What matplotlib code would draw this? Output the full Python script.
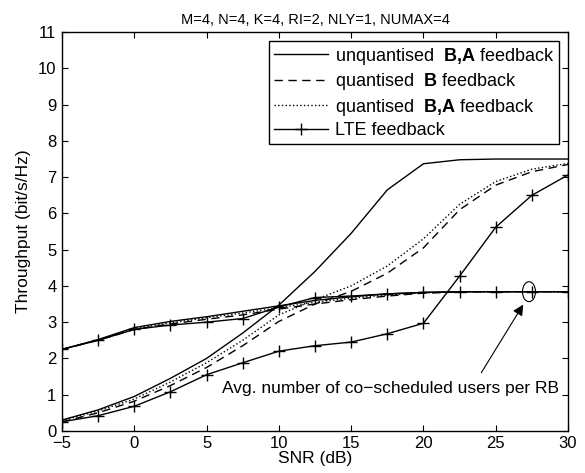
import numpy as np
import matplotlib
matplotlib.use("Agg")
import matplotlib.pyplot as plt
from matplotlib.patches import Ellipse

plt.rcParams['font.family'] = ['Liberation Sans', 'DejaVu Sans']
plt.rcParams['mathtext.fontset'] = 'custom'
plt.rcParams['mathtext.bf'] = 'Liberation Sans:bold'
plt.rcParams['mathtext.rm'] = 'Liberation Sans'

snr = [-5, -2.5, 0, 2.5, 5, 7.5, 10, 12.5, 15, 17.5, 20, 22.5, 25, 27.5, 30]

# throughput (bit/s/Hz)
thr_unq = [0.30, 0.58, 0.95, 1.45, 2.00, 2.70, 3.47, 4.40, 5.45, 6.65, 7.37, 7.48, 7.50, 7.50, 7.50]
thr_qb = [0.25, 0.50, 0.82, 1.25, 1.75, 2.35, 3.02, 3.50, 3.85, 4.35, 5.05, 6.10, 6.78, 7.15, 7.35]
thr_qba = [0.28, 0.55, 0.88, 1.35, 1.88, 2.50, 3.20, 3.62, 4.00, 4.55, 5.30, 6.25, 6.88, 7.22, 7.38]
thr_lte = [0.25, 0.42, 0.68, 1.08, 1.55, 1.88, 2.20, 2.35, 2.45, 2.68, 2.97, 4.27, 5.62, 6.50, 7.06]

# avg. number of co-scheduled users per RB
usr_unq = [2.25, 2.52, 2.85, 3.02, 3.15, 3.30, 3.45, 3.60, 3.70, 3.78, 3.82, 3.84, 3.84, 3.84, 3.84]
usr_qb = [2.25, 2.50, 2.80, 2.95, 3.08, 3.20, 3.36, 3.50, 3.62, 3.72, 3.80, 3.83, 3.84, 3.84, 3.84]
usr_qba = [2.25, 2.51, 2.82, 2.98, 3.12, 3.25, 3.40, 3.55, 3.66, 3.75, 3.81, 3.83, 3.84, 3.84, 3.84]
usr_lte = [2.25, 2.50, 2.80, 2.92, 3.00, 3.10, 3.42, 3.68, 3.72, 3.78, 3.82, 3.84, 3.84, 3.84, 3.84]

labels = ["unquantised  $\\mathbf{B{,}A}$ feedback",
          "quantised  $\\mathbf{B}$ feedback",
          "quantised  $\\mathbf{B{,}A}$ feedback",
          "LTE feedback"]

fig = plt.figure(figsize=(5.85, 4.73), dpi=100)
ax = fig.add_axes([0.106, 0.089, 0.865, 0.843])

lw = 1.0
ax.plot(snr, thr_unq, 'k-', lw=lw, label=labels[0])
ax.plot(snr, thr_qb, 'k--', lw=lw, dashes=(6, 4), label=labels[1])
ax.plot(snr, thr_qba, 'k:', lw=lw, label=labels[2])
ax.plot(snr, thr_lte, 'k-', lw=lw, marker='+', ms=8, mew=1.0, label=labels[3])

ax.plot(snr, usr_unq, 'k-', lw=lw)
ax.plot(snr, usr_qb, 'k--', lw=lw, dashes=(6, 4))
ax.plot(snr, usr_qba, 'k:', lw=lw)
ax.plot(snr, usr_lte, 'k-', lw=lw, marker='+', ms=8, mew=1.0)

ax.set_xlim(-5, 30)
ax.set_ylim(0, 11)
ax.set_xticks(np.arange(-5, 31, 5))
ax.set_yticks(np.arange(0, 12, 1))
ax.set_xticklabels([str(t).replace('-', '\u2212') for t in range(-5, 31, 5)])
ax.tick_params(direction='in', top=True, right=True, labelsize=12, length=4)
ax.tick_params(axis='x', pad=4)
ax.tick_params(axis='y', pad=4)
for s in ax.spines.values():
    s.set_linewidth(1.0)

ax.set_xlabel("SNR (dB)", fontsize=12.5, labelpad=0)
ax.set_ylabel("Throughput (bit/s/Hz)", fontsize=12.5, labelpad=5)
ax.set_title("M=4, N=4, K=4, RI=2, NLY=1, NUMAX=4", fontsize=10.5, pad=6)

leg = ax.legend(loc='upper right', fontsize=13, fancybox=False, framealpha=1,
                edgecolor='k', handlelength=3.0, borderaxespad=0.5,
                labelspacing=0.25, handletextpad=0.4, borderpad=0.25)
leg.get_frame().set_linewidth(1.0)

ax.add_patch(Ellipse((27.3, 3.84), 0.9, 0.55, fill=False, ec='k', lw=0.8))
ax.annotate("", xy=(27.0, 3.55), xytext=(23.9, 1.54),
            arrowprops=dict(arrowstyle='-|>', color='k', lw=0.8, mutation_scale=16))
ax.text(6.1, 1.18, "Avg. number of co\u2212scheduled users per RB", fontsize=12.5,
        ha='left', va='center')

fig.savefig("out.png", dpi=100)
